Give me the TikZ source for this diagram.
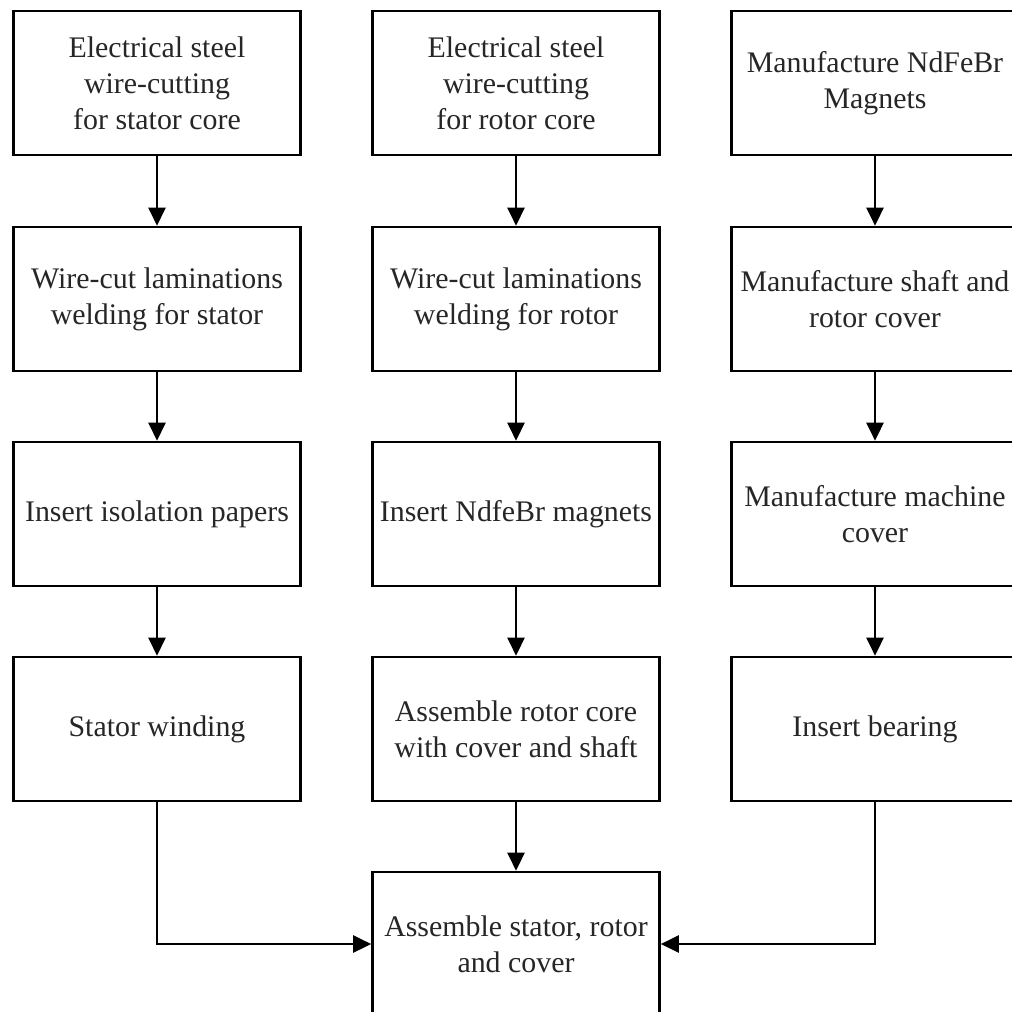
\documentclass[tikz,border=0pt]{standalone}
\usepackage{fontspec}
\setmainfont{Liberation Serif}
\usetikzlibrary{arrows.meta, positioning}

\begin{document}
\begin{tikzpicture}[
    stepbox/.style={draw, line width=1.5pt, minimum width=5.74cm,
        minimum height=2.88cm, inner sep=0pt, align=center,
        text=black!85, font=\fontsize{17}{20.5}\selectfont},
    flow/.style={line width=1.5pt, -{Triangle[length=0.36cm, width=0.34cm]}}
]

    \useasboundingbox (0,0) rectangle (20.22,-20.24);

    % ============================================================
    % STATOR COLUMN
    % ============================================================
    \node[stepbox] (statcut)  at (3.14,-1.66)
        {Electrical steel\\wire-cutting\\for stator core};
    \node[stepbox] (statweld) at (3.14,-5.98)
        {Wire-cut laminations\\welding for stator};
    \node[stepbox] (statiso)  at (3.14,-10.28)
        {Insert isolation papers};
    \node[stepbox] (statwind) at (3.14,-14.58)
        {Stator winding};

    % ============================================================
    % ROTOR COLUMN
    % ============================================================
    \node[stepbox] (rotcut)   at (10.32,-1.66)
        {Electrical steel\\wire-cutting\\for rotor core};
    \node[stepbox] (rotweld)  at (10.32,-5.98)
        {Wire-cut laminations\\welding for rotor};
    \node[stepbox] (rotmag)   at (10.32,-10.28)
        {Insert NdfeBr magnets};
    \node[stepbox] (rotasm)   at (10.32,-14.58)
        {Assemble rotor core\\with cover and shaft};

    % ============================================================
    % MAGNETS AND COVER COLUMN
    % ============================================================
    \node[stepbox] (magmake)  at (17.5,-1.66)
        {Manufacture NdFeBr\\Magnets};
    \node[stepbox] (shaft)    at (17.5,-5.98)
        {Manufacture shaft and\\rotor cover};
    \node[stepbox] (mcover)   at (17.5,-10.28)
        {Manufacture machine\\cover};
    \node[stepbox] (bearing)  at (17.5,-14.58)
        {Insert bearing};

    % ============================================================
    % FINAL ASSEMBLY
    % ============================================================
    \node[stepbox] (final)    at (10.32,-18.88)
        {Assemble stator, rotor\\and cover};

    % ============================================================
    % CONNECTORS
    % ============================================================
    \draw[flow] (statcut) -- (statweld);
    \draw[flow] (statweld) -- (statiso);
    \draw[flow] (statiso) -- (statwind);

    \draw[flow] (rotcut) -- (rotweld);
    \draw[flow] (rotweld) -- (rotmag);
    \draw[flow] (rotmag) -- (rotasm);
    \draw[flow] (rotasm) -- (final);

    \draw[flow] (magmake) -- (shaft);
    \draw[flow] (shaft) -- (mcover);
    \draw[flow] (mcover) -- (bearing);

    \draw[flow] (statwind.south) |- (final.west);
    \draw[flow] (bearing.south) |- (final.east);

\end{tikzpicture}
\end{document}
